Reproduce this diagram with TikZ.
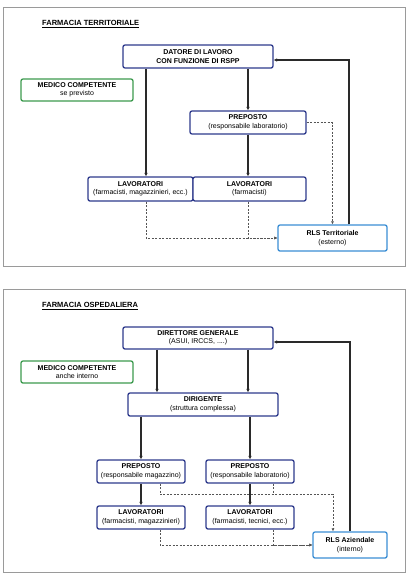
\documentclass[tikz,border=0pt]{standalone}
\usepackage{fontspec}
\setmainfont{Liberation Sans}
\usetikzlibrary{arrows.meta}
\definecolor{boxblue}{HTML}{2E3A8C}
\definecolor{boxgreen}{HTML}{3C9A4E}
\definecolor{rlsblue}{HTML}{3B8ED4}
\definecolor{framegray}{HTML}{9A9A9A}
\definecolor{linegray}{HTML}{2A2A2A}
\tikzset{
    ruolo/.style={draw=boxblue, line width=1.3pt, rounded corners=2pt, fill=white, align=center, inner sep=0pt, font=\fontsize{7}{8.5}\selectfont},
    medico/.style={ruolo, draw=boxgreen},
    rls/.style={ruolo, draw=rlsblue},
    freccia/.style={draw=linegray, line width=1.3pt, -{Latex[length=3.5pt,width=3.5pt]}},
    tratteggio/.style={draw=linegray!80, line width=0.7pt, dash pattern=on 2pt off 1.5pt, -{Latex[length=3pt,width=3pt]}},
    titolo/.style={anchor=west, inner sep=0pt, font=\fontsize{7.5}{9}\selectfont\bfseries},
}
\begin{document}
\begin{tikzpicture}[x=1pt,y=-1pt]
    \useasboundingbox (0,0) rectangle (409,579);
    % farmacia territoriale
    \draw [framegray, line width=0.9pt] (3,7) rectangle (405,266);
    \node [titolo] (tit1) at (42,24) {\underline{FARMACIA TERRITORIALE}};
    \node [ruolo, minimum width=150pt, minimum height=23pt] (datore) at (198,56.5) {\textbf{DATORE DI LAVORO}\\\textbf{CON FUNZIONE DI RSPP}};
    \node [medico, minimum width=112pt, minimum height=22pt] (medico1) at (77,90) {\textbf{MEDICO COMPETENTE}\\se previsto};
    \node [ruolo, minimum width=116pt, minimum height=23pt] (preposto1) at (248,122.5) {\textbf{PREPOSTO}\\(responsabile laboratorio)};
    \node [ruolo, minimum width=105pt, minimum height=24pt] (lav1a) at (140.5,189) {\textbf{LAVORATORI}\\(farmacisti, magazzinieri, ecc.)};
    \node [ruolo, minimum width=113pt, minimum height=24pt] (lav1b) at (249.5,189) {\textbf{LAVORATORI}\\(farmacisti)};
    \node [rls, minimum width=109pt, minimum height=26pt] (rls1) at (332.5,238) {\textbf{RLS Territoriale}\\(esterno)};
    \coordinate (lav1an) at ([xshift=5.5pt]lav1a.north);
    \coordinate (lav1as) at ([xshift=5.5pt]lav1a.south);
    \draw [freccia] (lav1an |- datore.south) -- (lav1an);
    \draw [freccia] (datore.south -| preposto1) -- (preposto1.north);
    \draw [freccia] (preposto1.south) -- (preposto1.south |- lav1b.north);
    \draw [tratteggio] (lav1as) |- (rls1.west);
    \draw [tratteggio] (preposto1.south |- lav1b.south) |- (rls1.west);
    \draw [tratteggio] (preposto1.east) -| (rls1.north);
    \draw [freccia] ([xshift=16.5pt]rls1.north) |- ([yshift=-3.5pt]datore.east);
    % farmacia ospedaliera
    \draw [framegray, line width=0.9pt] (3,289) rectangle (405,572);
    \node [titolo] (tit2) at (42,306) {\underline{FARMACIA OSPEDALIERA}};
    \node [ruolo, minimum width=150pt, minimum height=22pt] (direttore) at (198,338) {\textbf{DIRETTORE GENERALE}\\(ASUI, IRCCS, ....)};
    \node [medico, minimum width=112pt, minimum height=22pt] (medico2) at (77,372) {\textbf{MEDICO COMPETENTE}\\anche interno};
    \node [ruolo, minimum width=150pt, minimum height=23pt] (dirigente) at (203,404.5) {\textbf{DIRIGENTE}\\(struttura complessa)};
    \node [ruolo, minimum width=88pt, minimum height=23pt] (prep2a) at (141,471.5) {\textbf{PREPOSTO}\\(responsabile magazzino)};
    \node [ruolo, minimum width=88pt, minimum height=23pt] (prep2b) at (250,471.5) {\textbf{PREPOSTO}\\(responsabile laboratorio)};
    \node [ruolo, minimum width=88pt, minimum height=23pt] (lav2a) at (141,517.5) {\textbf{LAVORATORI}\\(farmacisti, magazzinieri)};
    \node [ruolo, minimum width=88pt, minimum height=23pt] (lav2b) at (250,517.5) {\textbf{LAVORATORI}\\(farmacisti, tecnici, ecc.)};
    \node [rls, minimum width=74pt, minimum height=26pt] (rls2) at (350,545) {\textbf{RLS Aziendale}\\(interno)};
    \coordinate (dirl) at ([xshift=-41pt]direttore.south);
    \coordinate (dirr) at ([xshift=50pt]direttore.south);
    \draw [freccia] (dirl) -- (dirl |- dirigente.north);
    \draw [freccia] (dirr) -- (dirr |- dirigente.north);
    \draw [freccia] (dirigente.south -| prep2a) -- (prep2a.north);
    \draw [freccia] (dirigente.south -| prep2b) -- (prep2b.north);
    \draw [freccia] (prep2a.south) -- (lav2a.north);
    \draw [freccia] (prep2b.south) -- (lav2b.north);
    \coordinate (pa) at ([xshift=19pt]prep2a.south);
    \coordinate (pb) at ([xshift=23pt]prep2b.south);
    \coordinate (rlsin) at ([xshift=-17pt]rls2.north);
    \draw [tratteggio] (pa) -- ++(0,11) -| (rlsin);
    \draw [tratteggio, -] (pb) -- ++(0,11);
    \draw [tratteggio] ([xshift=19pt]lav2a.south) |- (rls2.west);
    \draw [tratteggio] ([xshift=23pt]lav2b.south) |- (rls2.west);
    \draw [freccia] (rls2.north) |- ([yshift=-4pt]direttore.east);
\end{tikzpicture}
\end{document}
